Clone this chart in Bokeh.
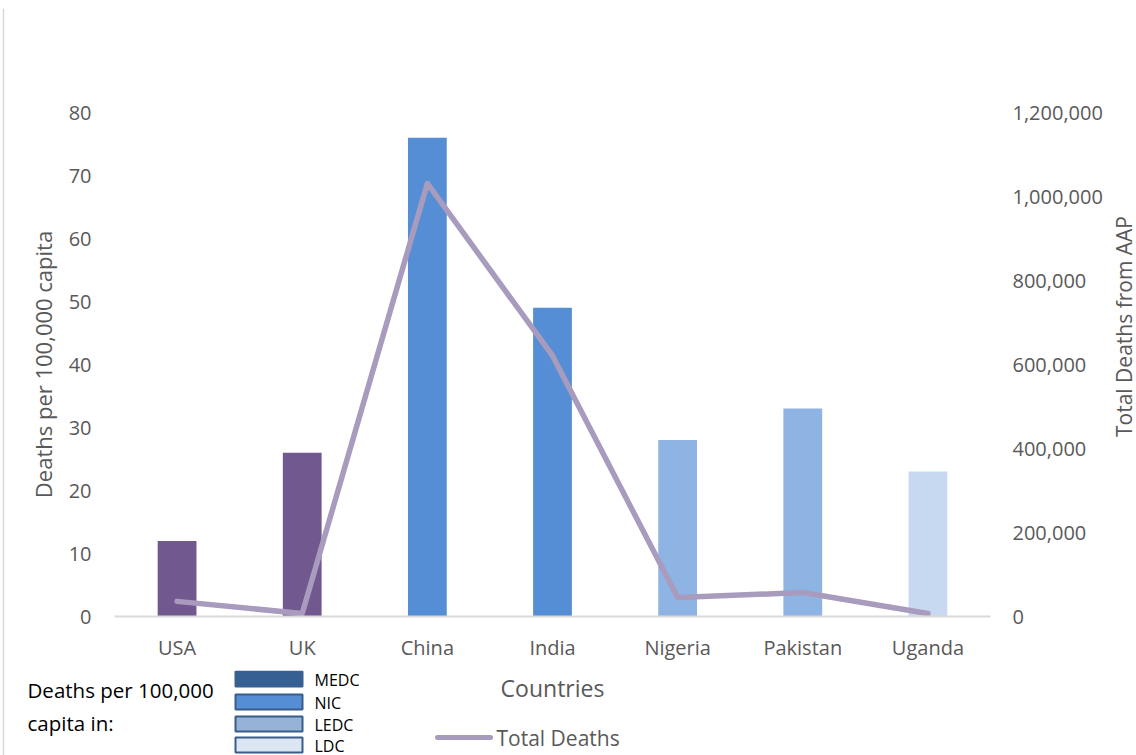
from math import pi
from bokeh.plotting import figure
from bokeh.layouts import column, row
from bokeh.models import (Range1d, FactorRange, LinearAxis, FixedTicker,
                          NumeralTickFormatter, ColumnDataSource)
from bokeh.core.properties import value
from bokeh.embed import file_html
from bokeh.resources import INLINE

# ---------------- data ----------------
countries = ["USA", "UK", "China", "India", "Nigeria", "Pakistan", "Uganda"]
deaths_per_100k = [12, 26, 76, 49, 28, 33, 23]
total_deaths = [36000, 7000, 1031000, 621000, 45000, 57000, 7000]
dev_group = ["MEDC", "MEDC", "NIC", "NIC", "LEDC", "LEDC", "LDC"]
legend_groups = ["MEDC", "NIC", "LEDC", "LDC"]
left_ticks = [0, 10, 20, 30, 40, 50, 60, 70, 80]
right_ticks = [0, 200000, 400000, 600000, 800000, 1000000, 1200000]

# ---------------- styles ----------------
bar_colors = {"MEDC": "#71588F", "NIC": "#558ED5", "LEDC": "#8EB4E3", "LDC": "#C6D9F1"}
legend_fill = {"MEDC": "#376092", "NIC": "#558ED5", "LEDC": "#95B3D7", "LDC": "#DCE6F2"}
line_color = "#A99BBD"
txt = "#595959"
border_col = "#D9D9D9"
FONT = "Open Sans"

W, H = 1136, 755
OX, OY = 5, 8            # offset of main area (room for outer border)
RX = 1110                # page x where the right title strip starts
FL, FR, FT, FB = 114, 990, 112, 616   # plot frame edges (page pixels)
P1_BOTTOM = 670          # page y where the lower strip starts


def blank(width, height, xr, yr):
    f = figure(width=width, height=height, x_range=xr, y_range=yr,
               output_backend="svg", toolbar_location=None,
               x_axis_location=None, y_axis_location=None, min_border=0)
    f.xgrid.visible = False
    f.ygrid.visible = False
    f.outline_line_color = None
    f.background_fill_color = "white"
    f.border_fill_color = "white"
    f.frame_align = False
    return f


# ---------- outer border strips ----------
top_strip = blank(W, OY, Range1d(0, W), Range1d(OY, 0))
top_strip.segment(x0=[3], y0=[7], x1=[W], y1=[7], line_color=border_col, line_width=1.5)
left_strip = blank(OX, H - OY, Range1d(0, OX), Range1d(H, OY))
left_strip.segment(x0=[3], y0=[OY], x1=[3], y1=[H], line_color=border_col, line_width=1.5)

# ---------- main chart ----------
p = figure(width=RX - OX, height=P1_BOTTOM - OY,
           x_range=FactorRange(*countries, range_padding=0),
           y_range=Range1d(0, 80), output_backend="svg", toolbar_location=None,
           min_border_left=FL - OX, min_border_right=RX - FR, min_border_top=FT - OY,
           min_border_bottom=P1_BOTTOM - FB)
p.frame_align = False
p.extra_y_ranges = {"deaths": Range1d(0, 1200000)}
p.xgrid.visible = False
p.ygrid.visible = False
p.outline_line_color = None
p.background_fill_color = "white"
p.border_fill_color = "white"

ya = p.yaxis[0]
ya.ticker = FixedTicker(ticks=left_ticks)
ya.axis_line_color = None
ya.major_tick_line_color = None
ya.minor_tick_line_color = None
ya.major_tick_out = 0
ya.major_tick_in = 0
ya.major_label_standoff = 23
ya.major_label_text_font = FONT
ya.major_label_text_font_size = "20px"
ya.major_label_text_color = txt
ya.axis_label = "Deaths per 100,000 capita"
ya.axis_label_standoff = 8
ya.axis_label_text_font = FONT
ya.axis_label_text_font_size = "22px"
ya.axis_label_text_font_style = "normal"
ya.axis_label_text_color = txt

ra = LinearAxis(y_range_name="deaths", ticker=FixedTicker(ticks=right_ticks),
                formatter=NumeralTickFormatter(format="0,0"))
ra.axis_line_color = None
ra.major_tick_line_color = None
ra.minor_tick_line_color = None
ra.major_tick_out = 0
ra.major_tick_in = 0
ra.major_label_standoff = 22
ra.major_label_text_font = FONT
ra.major_label_text_font_size = "20px"
ra.major_label_text_color = txt
p.add_layout(ra, "right")

xa = p.xaxis[0]
xa.axis_line_color = border_col
xa.axis_line_width = 2
xa.major_tick_line_color = None
xa.minor_tick_line_color = None
xa.major_tick_out = 0
xa.major_tick_in = 0
xa.major_label_standoff = 17
xa.major_label_text_font = FONT
xa.major_label_text_font_size = "20px"
xa.major_label_text_color = txt

src = ColumnDataSource(dict(x=countries, top=deaths_per_100k,
                            color=[bar_colors[g] for g in dev_group]))
p.vbar(x="x", top="top", width=0.31, source=src, fill_color="color", line_color=None)
p.line(x=countries, y=total_deaths, y_range_name="deaths", line_color=line_color,
       line_width=5.5, line_cap="round", line_join="round")

# ---------- right strip: secondary axis title (page-pixel coordinates) ----------
rs = blank(W - RX, P1_BOTTOM - OY, Range1d(RX, W), Range1d(P1_BOTTOM, OY))
rs.text(x=[1123], y=[326], text=["Total Deaths from AAP"], angle=pi / 2,
        text_align="center", text_baseline="middle", text_font=value(FONT),
        text_font_size="21px", text_color=txt)

# ---------- lower strip: axis title + custom legend (page-pixel coordinates) ----------
q = blank(W - OX, H - P1_BOTTOM, Range1d(OX, W), Range1d(H, P1_BOTTOM))

q.text(x=[552], y=[687], text=["Countries"], text_align="center",
       text_baseline="middle", text_font=value(FONT), text_font_size="23px",
       text_color=txt)
q.text(x=[27, 27], y=[689, 722], text=["Deaths per 100,000", "capita in:"],
       text_align="left", text_baseline="middle", text_font=value(FONT),
       text_font_size="20.5px", text_color="black")

box_tops = [671, 694, 716, 737]
q.quad(left=[235] * 4, right=[302] * 4, top=box_tops, bottom=[t + 15 for t in box_tops],
       fill_color=[legend_fill[g] for g in legend_groups],
       line_color=[legend_fill[g] if g == "MEDC" else "#385D8A" for g in legend_groups],
       line_width=2)
q.text(x=[314] * 4, y=[t + 8 for t in box_tops], text=legend_groups, text_align="left",
       text_baseline="middle", text_font=value(FONT), text_font_size="16px",
       text_color="black")

q.segment(x0=[437], y0=[737], x1=[490], y1=[737], line_color=line_color,
          line_width=5, line_cap="round")
q.text(x=[496], y=[737], text=["Total Deaths"], text_align="left",
       text_baseline="middle", text_font=value(FONT), text_font_size="21px",
       text_color=txt)

layout = column(top_strip,
                row(left_strip, column(row(p, rs, spacing=0), q, spacing=0), spacing=0),
                spacing=0)

open("out.html", "w").write(file_html(layout, INLINE))
